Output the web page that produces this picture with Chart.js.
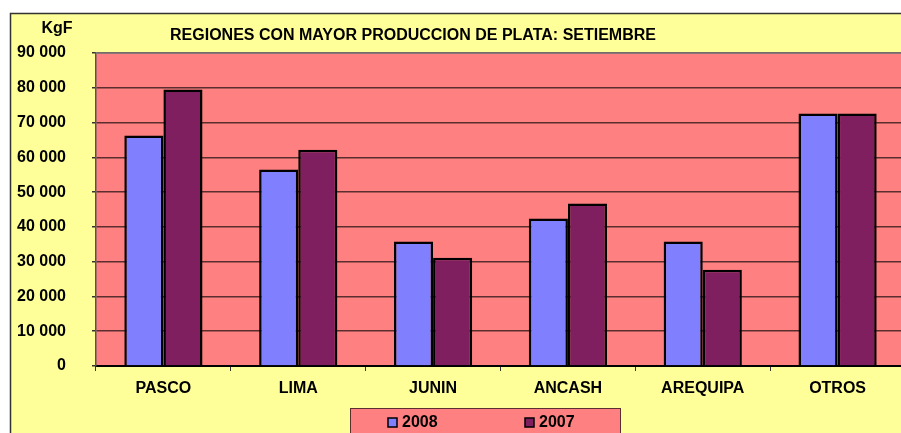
<!DOCTYPE html>
<html>
<head>
<meta charset="utf-8">
<script src="https://cdn.jsdelivr.net/npm/chart.js@4.4.0/dist/chart.umd.min.js"></script>
<style>
body { margin:0; overflow:hidden; background:#fff; }
#wrap { position:absolute; left:0; top:0; width:912px; height:450px; }
</style>
</head>
<body>
<div id="wrap"><canvas id="myChart"></canvas></div>
<script>
var regiones = ['PASCO', 'LIMA', 'JUNIN', 'ANCASH', 'AREQUIPA', 'OTROS'];
var prod2008 = [66300, 56500, 35800, 42400, 35800, 72600];
var prod2007 = [79500, 62200, 31100, 46700, 27700, 72600];
var serieNombres = ['2008', '2007'];
var tituloTexto = 'REGIONES CON MAYOR PRODUCCION DE PLATA: SETIEMBRE';
var unidadTexto = 'KgF';

var colores = ['#8080FF', '#7F1F5F'];
var fuente = 'bold 16px "Liberation Sans", Arial, sans-serif';

// fondo amarillo, area rosa, titulo y leyenda al estilo excel
var fondoPlugin = {
	id: 'fondo',
	beforeDraw: function(chart){
		var c = chart.ctx, a = chart.chartArea;
		c.save();
		c.fillStyle = '#fff';
		c.fillRect(0, 0, chart.width, chart.height);
		c.fillStyle = '#FFFF99';
		c.fillRect(10, 13, chart.width, chart.height);
		c.strokeStyle = '#333';
		c.lineWidth = 1.5;
		c.strokeRect(10.5, 13.5, chart.width, chart.height);
		c.fillStyle = '#FF8080';
		c.fillRect(a.left, a.top, a.right - a.left, a.bottom - a.top);
		c.restore();
	},
	afterDraw: function(chart){
		var c = chart.ctx, a = chart.chartArea;
		c.save();
		c.strokeStyle = '#808080';
		c.lineWidth = 1.5;
		c.beginPath();
		c.moveTo(a.left, a.top); c.lineTo(a.right, a.top);
		c.stroke();
		c.fillStyle = '#000';
		c.font = fuente;
		c.textBaseline = 'middle';
		c.textAlign = 'center';
		c.fillText(unidadTexto, 57, 29);
		c.fillText(tituloTexto, 413, 36);
		// leyenda
		c.fillStyle = '#FF8080';
		c.fillRect(350, 408, 270, 40);
		c.strokeStyle = '#5a3030';
		c.lineWidth = 1;
		c.strokeRect(350.5, 408.5, 270, 40);
		var xs = [388, 525];
		c.textAlign = 'left';
		for(var i=0; i<serieNombres.length; i++){
			c.fillStyle = colores[i];
			c.fillRect(xs[i], 418, 9, 9);
			c.strokeStyle = '#000';
			c.lineWidth = 1.5;
			c.strokeRect(xs[i], 418, 9, 9);
			c.fillStyle = '#000';
			c.fillText(serieNombres[i], xs[i] + 14, 423);
		}
		c.restore();
	}
};

var chartData = {
	labels: regiones,
	datasets: [
		{ label: serieNombres[0], data: prod2008, backgroundColor: colores[0], borderColor: '#000', borderWidth: 2.5, categoryPercentage: 0.58, barPercentage: 1.0 },
		{ label: serieNombres[1], data: prod2007, backgroundColor: colores[1], borderColor: '#000', borderWidth: 2.5, categoryPercentage: 0.58, barPercentage: 1.0 }
	]
};

var ctx = document.getElementById('myChart').getContext('2d');
var myChart = new Chart(ctx, {
	type: 'bar',
	data: chartData,
	plugins: [fondoPlugin],
	options: {
		responsive: true,
		maintainAspectRatio: false,
		animation: false,
		layout: { padding: { top: 53, left: 0, right: 7, bottom: 0 } },
		plugins: { legend: { display: false }, title: { display: false }, tooltip: { enabled: false } },
		scales: {
			x: {
				afterFit: function(s){ s.height = 84; },
				grid: { drawOnChartArea: false, drawTicks: true, tickLength: 5, tickColor: '#333', offset: true },
				border: { color: '#000', width: 2 },
				ticks: { color: '#000', font: { family: '"Liberation Sans", Arial, sans-serif', size: 16, weight: 'bold' }, padding: 8 }
			},
			y: {
				min: 0, max: 90000,
				afterFit: function(s){ s.width = 96; },
				grid: { color: '#5a2e2e', lineWidth: 1.5, tickLength: 4, tickColor: '#333' },
				border: { color: '#555', width: 1.5 },
				ticks: {
					stepSize: 10000, color: '#000', padding: 26,
					font: { family: '"Liberation Sans", Arial, sans-serif', size: 16, weight: 'bold' },
					callback: function(v){ return v === 0 ? '0' : (v/1000) + ' 000'; }
				}
			}
		}
	}
});
</script>
</body>
</html>
